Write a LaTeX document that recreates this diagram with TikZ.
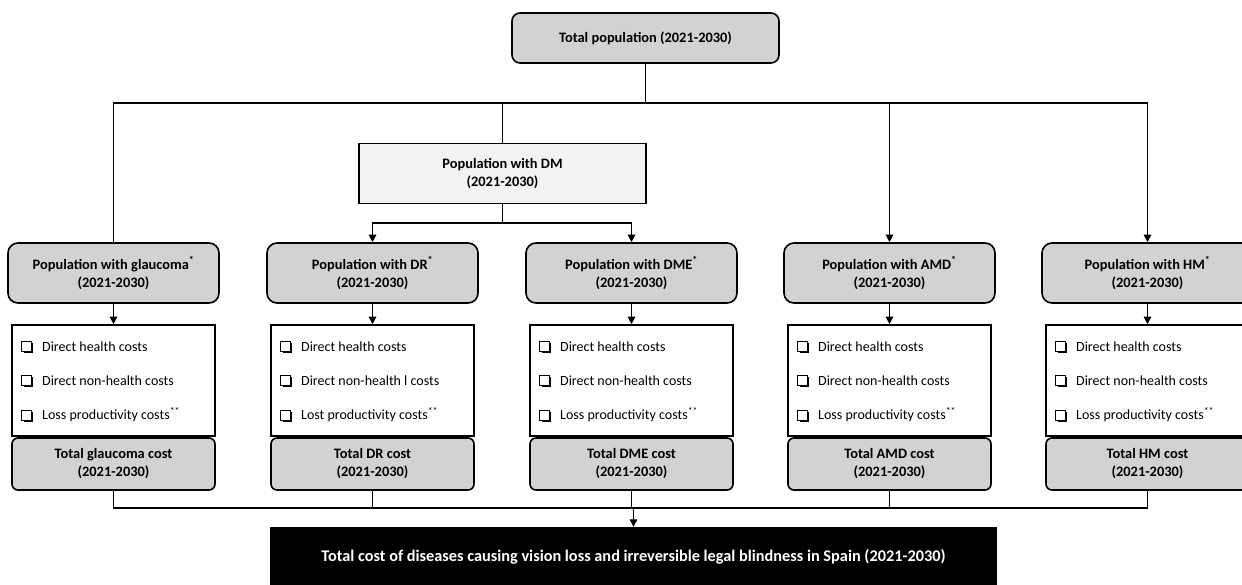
\documentclass[tikz,border=0pt]{standalone}
\usepackage{fontspec}
\setmainfont{Carlito}
\usetikzlibrary{arrows.meta}
\definecolor{boxgray}{RGB}{210,210,210}
\definecolor{dmgray}{RGB}{242,242,242}
\newcommand{\ckbx}{\tikz[baseline=0pt,x=1pt,y=1pt]{\fill (1.8,-1.8) rectangle (11.3,7.7);\draw[fill=white,line width=0.9pt] (0,0) rectangle (9.5,9.5);}}
\tikzset{
  titlefont/.style={font=\fontsize{14.4}{18}\selectfont\bfseries},
  popbox/.style={draw, line width=1.6pt, fill=boxgray, rounded corners=10pt, minimum width=211pt, minimum height=60pt, align=center, titlefont, inner sep=0pt},
  listbox/.style={draw, line width=1.6pt, fill=white, minimum width=203pt, minimum height=111pt, inner sep=0pt},
  totbox/.style={draw, line width=1.6pt, fill=boxgray, rounded corners=6pt, minimum width=203pt, minimum height=52pt, align=center, titlefont, inner sep=0pt},
  itemtxt/.style={anchor=west, inner sep=0pt, font=\fontsize{14}{16}\selectfont},
  conn/.style={line width=1.2pt},
  arr/.style={line width=1.2pt, -{Triangle[length=7.5pt,width=7.5pt]}},
}
\begin{document}
\begin{tikzpicture}[x=1pt,y=-1pt]
\useasboundingbox (0,0) rectangle (1242,584);
\clip (0,0) rectangle (1242,584);
\node[draw, line width=1.6pt, fill=boxgray, rounded corners=8pt, minimum width=267pt, minimum height=50pt, inner sep=0pt, titlefont] (top) at (645.5,38) {Total population (2021-2030)};
\node[draw, line width=1.6pt, fill=dmgray, minimum width=287pt, minimum height=60pt, inner sep=0pt, align=center, titlefont] (dm) at (502.5,173.5) {Population with DM\\(2021-2030)};
\foreach \n/\cx/\lab/\tot/\ia/\ib/\ic in {
  gl/113.5/glaucoma/glaucoma/Direct health costs/Direct non-health costs/Loss productivity costs,
  dr/372.5/DR/DR/Direct health costs/Direct non-health l costs/Lost productivity costs,
  dme/631.5/DME/DME/Direct health costs/Direct non-health costs/Loss productivity costs,
  amd/889.5/AMD/AMD/Direct health costs/Direct non-health costs/Loss productivity costs,
  hm/1147.5/HM/HM/Direct health costs/Direct non-health costs/Loss productivity costs}{
  \node[popbox] (pop-\n) at (\cx,273) {Population with \lab\textsuperscript{*}\\(2021-2030)};
  \node[listbox] (list-\n) at (\cx,380.5) {};
  \node[totbox] (tot-\n) at (\cx,464) {Total \tot\ cost\\(2021-2030)};
  \node[itemtxt] (i1-\n) at ([xshift=10pt]list-\n.west |- 0,347) {\ckbx\hspace{9pt}\ia};
  \node[itemtxt] (i2-\n) at ([xshift=10pt]list-\n.west |- 0,381) {\ckbx\hspace{9pt}\ib};
  \node[itemtxt] (i3-\n) at ([xshift=10pt]list-\n.west |- 0,415) {\ckbx\hspace{9pt}\ic\textsuperscript{**}};
  \draw[arr] (pop-\n.south) -- (list-\n.north);
}
\node[fill=black, minimum width=727pt, minimum height=60pt, inner sep=0pt, text=white, font=\fontsize{16.3}{20}\selectfont\bfseries] (final) at (633.5,557) {Total cost of diseases causing vision loss and irreversible legal blindness in Spain (2021-2030)};
% top bus
\coordinate (busT) at (645.5,103);
\draw[conn] (top.south) -- (busT);
\draw[conn] (pop-gl.north) -- (pop-gl.north |- busT) -- (pop-hm.north |- busT);
\draw[arr] (pop-hm.north |- busT) -- (pop-hm.north);
\draw[arr] (pop-amd.north |- busT) -- (pop-amd.north);
\draw[conn] (dm.north |- busT) -- (dm.north);
% DM bus
\coordinate (busD) at (502.5,223);
\draw[conn] (dm.south) -- (busD);
\draw[arr] (busD) -| (pop-dr.north);
\draw[arr] (busD) -| (pop-dme.north);
% bottom bus
\coordinate (busB) at (633.5,508);
\draw[conn] (tot-gl.south) -- (tot-gl.south |- busB) -- (tot-hm.south |- busB) -- (tot-hm.south);
\draw[conn] (tot-dr.south) -- (tot-dr.south |- busB);
\draw[conn] (tot-dme.south) -- (tot-dme.south |- busB);
\draw[conn] (tot-amd.south) -- (tot-amd.south |- busB);
\draw[arr] (busB) -- (final.north);
\end{tikzpicture}
\end{document}
